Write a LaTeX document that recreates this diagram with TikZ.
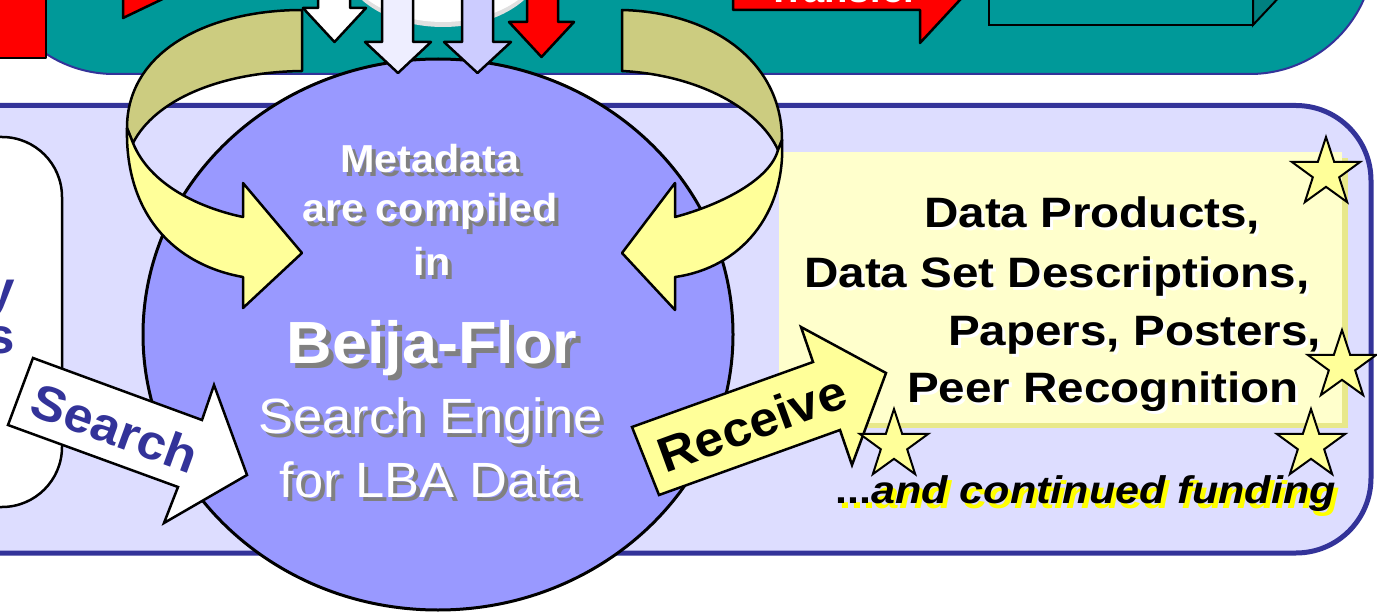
\documentclass[tikz,border=0pt]{standalone}
\usepackage{fontspec}
\setmainfont{Liberation Sans}[FakeStretch=1.06]
\newfontfamily\boxfont{Liberation Sans}[FakeStretch=1.12]
\usetikzlibrary{shapes.geometric}
\definecolor{tealc}{HTML}{009999}
\definecolor{cubeside}{HTML}{008080}
\definecolor{darkblue}{HTML}{333399}
\definecolor{lav}{HTML}{DDDDFF}
\definecolor{circ}{HTML}{9999FF}
\definecolor{olive}{HTML}{CCCC80}
\definecolor{yel}{HTML}{FFFF99}
\definecolor{boxy}{HTML}{FFFFCC}
\definecolor{boxsh}{HTML}{E8E88A}
\definecolor{lavone}{HTML}{EEEEFF}
\definecolor{lavtwo}{HTML}{CCCCFF}
\definecolor{shgray}{HTML}{808080}
\definecolor{brightyel}{HTML}{FFFF00}
\newcommand\shtext[6]{%
  \node[anchor=base, text=shgray, inner sep=0pt, font=#4] (#3s) at (#1+#6,#2+#6) {#5};
  \node[anchor=base, text=white, inner sep=0pt, font=#4] (#3) at (#1,#2) {#5};}
\newcommand\boxtext[4]{%
  \node[anchor=base west, text=white, inner sep=0pt, font=\boxfont\bfseries\fontsize{42.5}{42.5}\selectfont] (#3s) at (#1+3,#2+3) {#4};
  \node[anchor=base west, text=black, inner sep=0pt, font=\boxfont\bfseries\fontsize{42.5}{42.5}\selectfont] (#3) at (#1,#2) {#4};}
\begin{document}
\begin{tikzpicture}[x=1pt,y=-1pt,
  outl/.style={draw=black,line width=2.5pt,line join=round},
  starsty/.style={star, star points=5, star point ratio=2.6, minimum size=72pt, inner sep=0pt, fill=yel, draw=black, line width=2pt}]
\useasboundingbox (0,0) rectangle (1377,615);
\clip (0,0) rectangle (1377,615);
\fill[white] (0,0) rectangle (1377,615);
% top teal band
\filldraw[fill=tealc, draw=darkblue, line width=2pt, rounded corners=124pt] (-10,-200) rectangle (1374,74);
% contents of teal band
\filldraw[fill=red, outl] (-10,-10) rectangle (46,58);
\filldraw[fill=red, outl] (123,-10) -- (123,18) -- (171,-5) -- cycle;
\fill[black!12] (443,-40) ellipse [x radius=101pt, y radius=67pt];
\fill[white] (443,-43) ellipse [x radius=100pt, y radius=65pt];
\filldraw[fill=white, outl] (318,-10) -- (318,8) -- (303,8) -- (334.5,42) -- (366,8) -- (350,8) -- (350,-10) -- cycle;
\filldraw[fill=red, outl] (527,-10) -- (527,22) -- (509,22) -- (541.5,57) -- (574,22) -- (558,22) -- (558,-10) -- cycle;
\filldraw[fill=red, outl] (733,-60) -- (733,10) -- (920,10) -- (920,43) -- (983,-25) -- (920,-93) -- (920,-60) -- cycle;
\node[anchor=base, text=white, inner sep=0pt, font=\bfseries\fontsize{36}{36}\selectfont] (transfer) at (843,3) {Transfer};
\filldraw[fill=cubeside, draw=black, line width=2pt] (1253,25) -- (1300,-25) -- (1300,-60) -- (1253,-60) -- cycle;
\filldraw[fill=tealc, draw=black, line width=2pt] (989,-60) rectangle (1253,25);
% lower lavender panel
\filldraw[fill=lav, draw=darkblue, line width=5pt, rounded corners=75pt] (-100,105.5) rectangle (1371,553);
% left white box
\filldraw[fill=white, draw=black, line width=2.5pt, rounded corners=60pt] (-100,137) rectangle (62,507);
\node[anchor=base east, inner sep=0pt, text=darkblue, font=\bfseries\fontsize{50}{50}\selectfont] (ty) at (15,306) {y};
\node[anchor=base east, inner sep=0pt, text=darkblue, font=\bfseries\fontsize{50}{50}\selectfont] (ts) at (15,353) {s};
% yellow results box
\fill[boxsh] (787,158) rectangle (1348,428);
\fill[boxy] (779,152) rectangle (1342,423);
% search engine circle
\node[ellipse, fill=circ, draw=black, line width=3pt, minimum width=590pt, minimum height=551pt, inner sep=0pt] (engine) at (438,334.5) {};
% lavender down arrows
\filldraw[fill=lavone, outl] (382,-10) -- (382,42) -- (365,42) -- (398,73) -- (431,42) -- (413,42) -- (413,-10) -- cycle;
\filldraw[fill=lavtwo, outl] (462,-10) -- (462,42) -- (444,42) -- (477.5,73) -- (511,42) -- (493,42) -- (493,-10) -- cycle;
% left ribbon arrow
\filldraw[fill=olive, outl] (302,10) .. controls (210,10) and (127,50) .. (127,128) -- (133,143) .. controls (155,100) and (220,72) .. (302,71) -- cycle;
\filldraw[fill=yel, outl] (127,128) .. controls (125,215) and (175,265) .. (243,277) -- (243,308) -- (302,253) -- (243,183) -- (243,217) .. controls (200,208) and (150,185) .. (133,143) -- cycle;
% right ribbon arrow
\filldraw[fill=olive, outl] (622,10) .. controls (710,12) and (782,60) .. (782,140) -- (778,150) .. controls (760,110) and (700,75) .. (622,71) -- cycle;
\filldraw[fill=yel, outl] (782,140) .. controls (786,215) and (740,268) .. (675,277) -- (675,310) -- (622,253) -- (675,183) -- (675,217) .. controls (720,205) and (770,180) .. (778,150) -- cycle;
% search arrow
\filldraw[fill=white, outl, line join=miter] (33,358) -- (202,420) -- (214,385) -- (247,475) -- (164,523) -- (178,487) -- (8,425) -- cycle;
\node[rotate=-20, inner sep=0pt, text=darkblue, font=\bfseries\fontsize{49}{49}\selectfont] (tsearch) at (115,428) {Search};
% receive arrow
\filldraw[fill=yel, outl, line join=miter] (632,427) -- (813,362) -- (801,327) -- (886,373) -- (852,465) -- (840,430) -- (659,495) -- cycle;
\node[rotate=20, inner sep=0pt, text=black, font=\bfseries\fontsize{49}{49}\selectfont] (trecv) at (752,423) {Receive};
% circle texts
\shtext{430}{173}{meta}{\bfseries\fontsize{39}{39}\selectfont}{Metadata}{4}
\shtext{430}{222}{compiled}{\bfseries\fontsize{39}{39}\selectfont}{are compiled}{4}
\shtext{432}{275}{in}{\bfseries\fontsize{39}{39}\selectfont}{in}{4}
\shtext{432}{363}{beija}{\bfseries\fontsize{59.5}{59.5}\selectfont}{Beija-Flor}{5}
\shtext{430.5}{433}{engtxt}{\fontsize{49.5}{49.5}\selectfont}{Search Engine}{4}
\shtext{430}{497}{lba}{\fontsize{49.5}{49.5}\selectfont}{for LBA Data}{4}
% box texts
\boxtext{924}{227}{prod}{Data Products,}
\boxtext{804}{287}{desc}{Data Set Descriptions,}
\boxtext{948}{345}{pap}{Papers, Posters,}
\boxtext{907}{402}{peer}{Peer Recognition}
\node[anchor=base west, text=brightyel, inner sep=0pt, font=\boxfont\bfseries\fontsize{38.5}{38.5}\selectfont] (funds) at (839,508) {...\textit{and continued funding}};
\node[anchor=base west, text=black, inner sep=0pt, font=\boxfont\bfseries\fontsize{38.5}{38.5}\selectfont] (fund) at (835,503) {...\textit{and continued funding}};
% stars
\node[starsty] (s1) at (1326,173) {};
\node[starsty] (s2) at (1342,366) {};
\node[starsty] (s3) at (894,445) {};
\node[starsty] (s4) at (1311,445) {};
\end{tikzpicture}
\end{document}
